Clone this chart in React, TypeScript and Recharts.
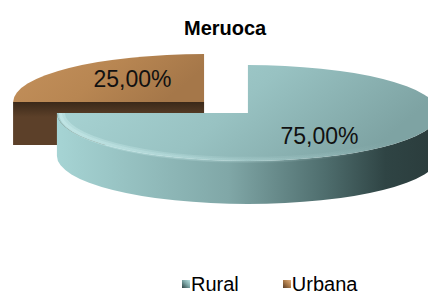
import React from "react";
import { PieChart, Pie, Legend } from "recharts";

// values
const categories = ["Rural", "Urbana"];
const shares = [75, 25];
const title = "Meruoca";

// Urbana sits at the back, so it is drawn first
const drawOrder = ["Urbana", "Rural"];

const W = 428;
const H = 296;
const TILT = 48 / 191; // ellipse ry / rx
const DEPTH = 43;
const EXPLODE = 31;
const FONT = '"Liberation Sans", Arial, sans-serif';

const sliceStyles: Record<string, { top: string[]; side: string[]; wall: string[]; rim: string; legend: string }> = {
  Rural: {
    top: ["#acd8d8", "#98c2c2", "#7ea3a3"],
    side: ["#a6d4d4", "#80a7a7", "#4f6e6e", "#2f4444", "#2a3b3b"],
    wall: ["#3f5a5a", "#4f6f6f"],
    rim: "#cdeeee",
    legend: "linear-gradient(45deg, #2c4444 0%, #7fa8a8 55%, #b8e2e2 100%)",
  },
  Urbana: {
    top: ["#c4915c", "#b88652", "#a57749"],
    side: ["#5a3e28", "#4d3522", "#3e2a1b", "#3a2818", "#3a2818"],
    wall: ["#3b2919", "#5c4029"],
    rim: "#d9aa78",
    legend: "linear-gradient(45deg, #5a3e28 0%, #b07e4c 55%, #e0b080 100%)",
  },
};

const pieData = drawOrder.map((name) => ({ name, value: shares[categories.indexOf(name)] }));

const RAD = Math.PI / 180;

const renderSlice = (props: any) => {
  const { cx, cy, outerRadius, startAngle, endAngle } = props;
  const name: string = props.payload?.name ?? props.name;
  const st = sliceStyles[name];
  const R = outerRadius;
  const ry = R * TILT;
  const mid = (startAngle + endAngle) / 2;
  const C = {
    x: cx + EXPLODE * Math.cos(mid * RAD),
    y: cy - EXPLODE * Math.sin(mid * RAD) * TILT,
  };
  const pt = (a: number, dz = 0, rr = R) => [C.x + rr * Math.cos(a * RAD), C.y - rr * TILT * Math.sin(a * RAD) + dz];
  const hi = Math.max(startAngle, endAngle);
  const lo = Math.min(startAngle, endAngle);

  // visible front part of the rim
  const walls: React.ReactNode[] = [];
  const bevels: React.ReactNode[] = [];
  [-360, 0, 360].forEach((off) => {
    const a = Math.max(lo, -180 + off);
    const b = Math.min(hi, 0 + off);
    if (b - a > 0.5) {
      const [x1, y1] = pt(b);
      const [x2, y2] = pt(a);
      const large = b - a > 180 ? 1 : 0;
      const d = `M${x1},${y1} A${R},${ry} 0 ${large} 1 ${x2},${y2} L${x2},${y2 + DEPTH} A${R},${ry} 0 ${large} 0 ${x1},${y1 + DEPTH} Z`;
      walls.push(<path key={`rim${off}`} d={d} fill={`url(#side-${name})`} />);
      [6, 3].forEach((w, j) => {
        const r2 = R - 2 - w / 2;
        const [bx1, by1] = pt(b, 0, r2);
        const [bx2, by2] = pt(a, 0, r2);
        bevels.push(
          <path
            key={`bev${off}-${j}`}
            d={`M${bx1},${by1} A${r2},${r2 * TILT} 0 ${large} 1 ${bx2},${by2}`}
            fill="none"
            stroke={`url(#bevel-${name})`}
            strokeWidth={w}
            strokeOpacity={0.5}
          />
        );
      });
    }
  });

  // flat cut faces turned to the viewer
  const cut = (e: number, key: string) => {
    const [x, y] = pt(e);
    const d = `M${C.x},${C.y} L${x},${y} L${x},${y + DEPTH} L${C.x},${C.y + DEPTH} Z`;
    return <path key={key} d={d} fill={`url(#wall-${name})`} />;
  };
  if (Math.cos(hi * RAD) < -0.01) walls.push(cut(hi, "cutHi"));
  if (Math.cos(lo * RAD) > 0.01) walls.push(cut(lo, "cutLo"));

  const [sx, sy] = pt(hi);
  const [ex, ey] = pt(lo);
  const large = hi - lo > 180 ? 1 : 0;
  const topPath = `M${C.x},${C.y} L${sx},${sy} A${R},${ry} 0 ${large} 1 ${ex},${ey} Z`;

  return (
    <g>
      <defs>
        <linearGradient id={`top-${name}`} x1="0" y1="0" x2="1" y2="0.3">
          <stop offset="0%" stopColor={st.top[0]} />
          <stop offset="55%" stopColor={st.top[1]} />
          <stop offset="100%" stopColor={st.top[2]} />
        </linearGradient>
        <linearGradient id={`side-${name}`} x1="0" y1="0" x2="1" y2="0">
          <stop offset="0%" stopColor={st.side[0]} />
          <stop offset="45%" stopColor={st.side[1]} />
          <stop offset="70%" stopColor={st.side[2]} />
          <stop offset="86%" stopColor={st.side[3]} />
          <stop offset="100%" stopColor={st.side[4]} />
        </linearGradient>
        <linearGradient id={`wall-${name}`} x1="0" y1="0" x2="0" y2="1">
          <stop offset="0%" stopColor={st.wall[0]} />
          <stop offset="35%" stopColor={st.wall[1]} />
          <stop offset="100%" stopColor={st.wall[1]} />
        </linearGradient>
        <linearGradient id={`bevel-${name}`} x1="0" y1="0" x2="1" y2="0">
          <stop offset="0%" stopColor={st.rim} stopOpacity={0.8} />
          <stop offset="45%" stopColor={st.rim} stopOpacity={0.3} />
          <stop offset="90%" stopColor={st.rim} stopOpacity={0} />
        </linearGradient>
      </defs>
      {walls}
      <path d={topPath} fill={`url(#top-${name})`} />
      {bevels}
    </g>
  );
};

const renderLabel = (props: any) => {
  const { cx, cy, outerRadius, startAngle, endAngle, percent } = props;
  const mid = (startAngle + endAngle) / 2;
  const ox = cx + EXPLODE * Math.cos(mid * RAD);
  const oy = cy - EXPLODE * Math.sin(mid * RAD) * TILT;
  const r = outerRadius * 0.53;
  const x = ox + r * Math.cos(mid * RAD);
  const y = oy - r * Math.sin(mid * RAD) * 0.32;
  const txt = (percent * 100).toFixed(2).replace(".", ",") + "%";
  return (
    <text x={x} y={y} textAnchor="middle" dominantBaseline="central" fontFamily={FONT} fontSize={23} fill="#111">
      {txt}
    </text>
  );
};

const renderLegend = (props: any) => {
  const items = [...(props.payload ?? [])].sort(
    (a: any, b: any) => categories.indexOf(a.value) - categories.indexOf(b.value)
  );
  return (
    <div style={{ display: "flex", alignItems: "center", fontFamily: FONT, fontSize: 20, lineHeight: "20px", color: "#000" }}>
      {items.map((it: any, i: number) => (
        <div key={it.value} style={{ display: "flex", alignItems: "center", marginRight: i === 0 ? 44 : 0 }}>
          <span style={{ display: "inline-block", width: 8, height: 8, background: sliceStyles[it.value].legend, marginRight: 1 }} />
          {it.value}
        </div>
      ))}
    </div>
  );
};

export default function App() {
  return (
    <div style={{ position: "absolute", left: 0, top: 0, width: W, height: H, background: "#fff", overflow: "hidden" }}>
      <div
        style={{
          position: "absolute",
          left: 184,
          top: 18,
          fontFamily: FONT,
          fontWeight: "bold",
          fontSize: 20,
          lineHeight: "20px",
          color: "#000",
          zIndex: 2,
        }}
      >
        {title}
      </div>
      <PieChart width={W} height={H} margin={{ top: 0, right: 0, bottom: 0, left: 0 }}>
        <Pie
          data={pieData}
          dataKey="value"
          nameKey="name"
          cx={226}
          cy={107.5}
          innerRadius={0}
          outerRadius={191}
          startAngle={180}
          endAngle={-180}
          stroke="none"
          shape={renderSlice}
          inactiveShape={renderSlice}
          activeShape={renderSlice}
          label={renderLabel}
          labelLine={false}
          isAnimationActive={false}
        />
        <Legend content={renderLegend} wrapperStyle={{ top: 274, left: 182, width: "auto" }} />
      </PieChart>
    </div>
  );
}
